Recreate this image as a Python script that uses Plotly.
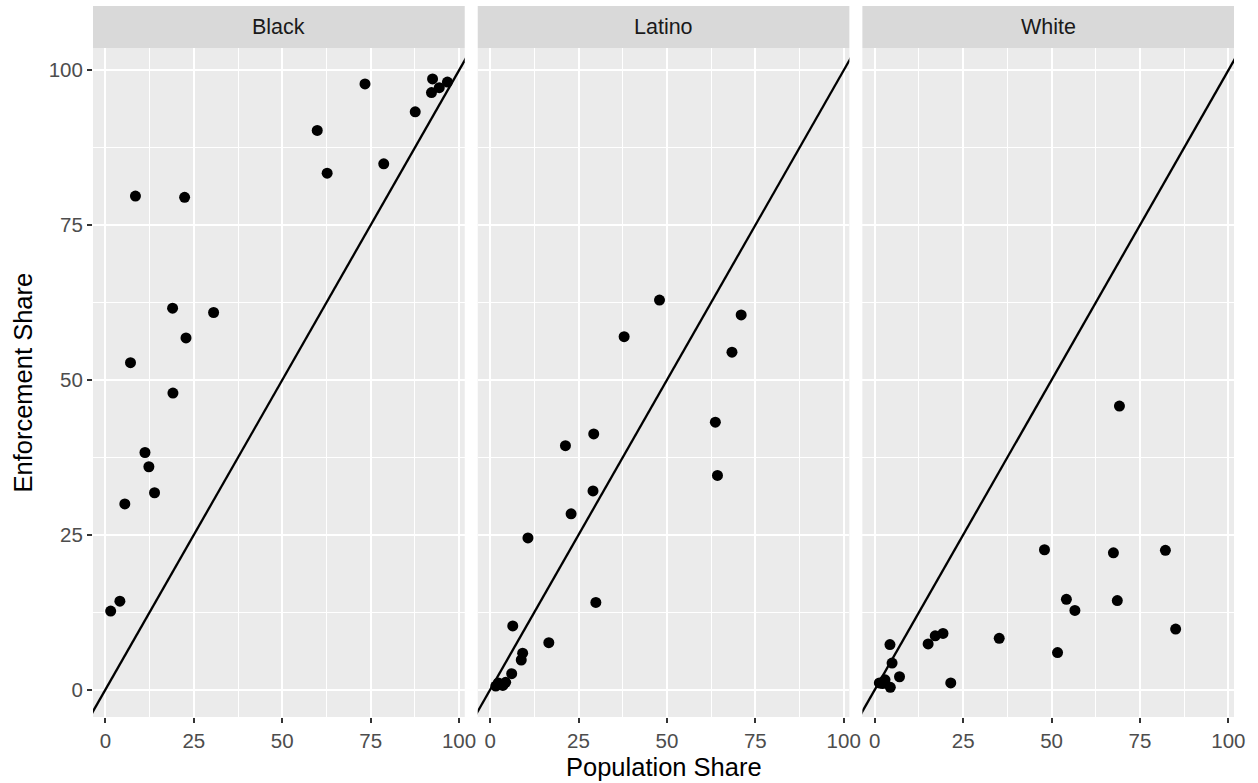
import plotly.graph_objects as go

# population share (x) vs enforcement share (y), one list pair per facet
groups = ["Black", "Latino", "White"]

black_pop = [73.4, 92.5, 92.2, 94.4, 96.7, 87.6, 59.9, 78.7, 62.7, 8.5, 22.4,
             19.0, 30.6, 22.8, 7.1, 19.1, 11.2, 12.3, 13.9, 5.5, 4.1, 1.5]
black_enf = [97.8, 98.6, 96.4, 97.2, 98.1, 93.3, 90.3, 84.9, 83.4, 79.7, 79.5,
             61.6, 60.9, 56.8, 52.8, 47.9, 38.3, 36.0, 31.8, 30.0, 14.3, 12.7]

latino_pop = [47.9, 71.0, 37.9, 68.4, 63.7, 29.3, 21.3, 64.3, 29.1, 22.9, 10.7,
              29.9, 6.4, 16.6, 9.2, 8.8, 6.1, 4.4, 3.0, 1.6, 2.3, 3.6]
latino_enf = [62.9, 60.5, 57.0, 54.5, 43.2, 41.3, 39.4, 34.6, 32.1, 28.4, 24.5,
              14.1, 10.3, 7.6, 5.9, 4.8, 2.6, 1.2, 0.9, 0.6, 1.1, 0.7]

white_pop = [69.2, 48.0, 67.5, 82.2, 54.2, 68.6, 56.6, 85.1, 35.2, 51.7, 19.3,
             17.1, 15.1, 4.3, 4.9, 7.0, 21.5, 2.9, 4.4, 1.3, 2.2]
white_enf = [45.8, 22.6, 22.1, 22.5, 14.6, 14.4, 12.8, 9.8, 8.3, 6.0, 9.1,
             8.7, 7.4, 7.3, 4.3, 2.1, 1.1, 1.6, 0.4, 1.1, 1.0]

# y = x reference line, drawn past the axis limits and clipped
diagonal = [-10, 110]

tick_vals = [0, 25, 50, 75, 100]
tick_text = ["0", "25", "50", "75", "100"]

FONT = "Liberation Sans, Arial, sans-serif"
domains = [[0.0, 0.3258], [0.3372, 0.6629], [0.6743, 1.0]]
series = [(black_pop, black_enf), (latino_pop, latino_enf), (white_pop, white_enf)]

fig = go.Figure()

for i, (xs, ys) in enumerate(series):
    xa = "x" if i == 0 else f"x{i + 1}"
    fig.add_trace(go.Scatter(
        x=diagonal, y=diagonal, mode="lines", xaxis=xa, yaxis="y",
        line=dict(color="black", width=2.3), hoverinfo="skip", showlegend=False,
    ))
    fig.add_trace(go.Scatter(
        x=xs, y=ys, mode="markers", xaxis=xa, yaxis="y",
        marker=dict(color="black", size=11, line=dict(width=0)),
        showlegend=False, cliponaxis=False,
    ))

axis_common = dict(
    showgrid=True, gridcolor="white", gridwidth=1.8,
    zeroline=False, showline=False,
    ticks="outside", ticklen=5, tickwidth=1.6, tickcolor="#333333",
    tickvals=tick_vals, ticktext=tick_text,
    tickfont=dict(family=FONT, size=20.5, color="#4D4D4D"),
    minor=dict(tickvals=[12.5, 37.5, 62.5, 87.5], showgrid=True,
               gridcolor="white", gridwidth=0.8, ticks=""),
)

layout = dict(
    width=1258, height=783,
    margin=dict(l=93, r=24, t=48, b=66),
    paper_bgcolor="white", plot_bgcolor="#EBEBEB",
    font=dict(family=FONT, color="black"),
    showlegend=False,
)

for i, dom in enumerate(domains):
    key = "xaxis" if i == 0 else f"xaxis{i + 1}"
    layout[key] = dict(axis_common, domain=dom, range=[-3.5, 101.6], anchor="y")

layout["yaxis"] = dict(axis_common, domain=[0, 1], range=[-4.4, 103.6], anchor="x")

fig.update_layout(**layout)

# facet strips
shapes = []
annotations = []
for i, dom in enumerate(domains):
    shapes.append(dict(type="rect", xref="paper", yref="paper",
                       x0=dom[0], x1=dom[1], y0=1.0, y1=1.0628,
                       fillcolor="#D9D9D9", line=dict(width=0), layer="below"))
    annotations.append(dict(text=groups[i], xref="paper", yref="paper",
                            x=(dom[0] + dom[1]) / 2, y=1.0314,
                            xanchor="center", yanchor="middle", showarrow=False,
                            font=dict(family=FONT, size=21.5, color="#1A1A1A")))

annotations.append(dict(text="Population Share", xref="paper", yref="paper",
                        x=0.5, y=-0.0747, xanchor="center", yanchor="middle",
                        showarrow=False, font=dict(family=FONT, size=25.5, color="black")))
annotations.append(dict(text="Enforcement Share", xref="paper", yref="paper",
                        x=-0.0622, y=0.5, xanchor="center", yanchor="middle",
                        textangle=-90, showarrow=False,
                        font=dict(family=FONT, size=25.5, color="black")))

fig.update_layout(shapes=shapes, annotations=annotations)

fig.write_html("out.html", config={"displayModeBar": False},
               post_script="document.body.style.margin='0';")
